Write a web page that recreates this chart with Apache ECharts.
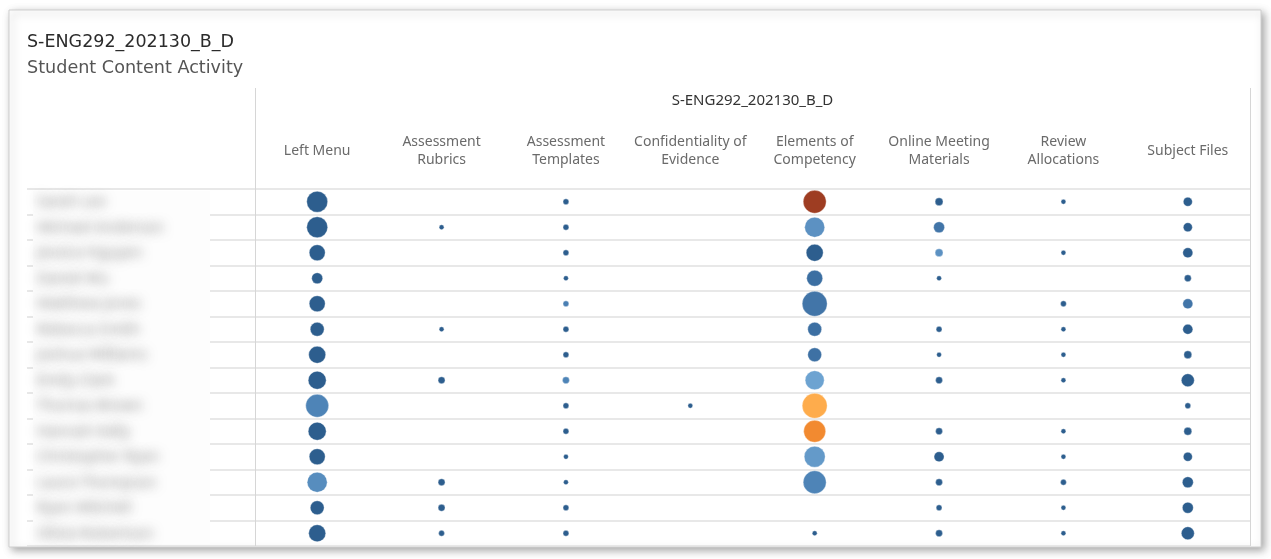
<!DOCTYPE html>
<html>
<head>
<meta charset="utf-8">
<script src="https://cdn.jsdelivr.net/npm/echarts@6/dist/echarts.min.js"></script>
<style>
  html, body { margin: 0; padding: 0; background: #fff; }
  #chart { width: 1271px; height: 559px; }
</style>
</head>
<body>
<div id="chart"></div>
<script>
// column (content area) names
const contentAreas = [
  'Left Menu', 'Assessment\nRubrics', 'Assessment\nTemplates', 'Confidentiality of\nEvidence',
  'Elements of\nCompetency', 'Online Meeting\nMaterials', 'Review\nAllocations', 'Subject Files'
]

// student names are blurred in the source, placeholders here
const students = [
  'Sarah Lee', 'Michael Anderson', 'Jessica Nguyen', 'Daniel Wu', 'Matthew Jones',
  'Rebecca Smith', 'Joshua Williams', 'Emily Clark', 'Thomas Brown', 'Hannah Kelly',
  'Christopher Ryan', 'Laura Thompson', 'Ryan Mitchell', 'Olivia Robertson'
]

// activity count per student (rows) and content area (columns), null = no activity
const activity = [
  [91, null, 7, null, 109, 13, 5, 17],
  [91, 5, 7, null, 83, 25, null, 17],
  [53, null, 7, null, 60, 13, 5, 21],
  [25, null, 5, null, 53, 5, null, 10],
  [53, null, 7, null, 129, null, 7, 21],
  [40, 5, 7, null, 40, 7, 5, 21],
  [60, null, 7, null, 40, 5, 5, 13],
  [67, 10, 10, null, 75, 10, 5, 35],
  [109, null, 7, 5, 129, null, null, 7],
  [67, null, 7, null, 100, 10, 5, 13],
  [53, null, 5, null, 91, 21, 5, 17],
  [83, 10, 5, null, 109, 10, 7, 25],
  [40, 10, 7, null, null, 7, 5, 25],
  [60, 7, 7, null, 5, 10, 5, 35]
]

// colour measure (0 = dark blue ... 100 = dark orange)
const colourScore = [
  [3, 3, 3, 3, 100, 3, 3, 3],
  [3, 3, 3, 3, 28, 15, 3, 3],
  [3, 3, 3, 3, 3, 28, 3, 3],
  [3, 3, 3, 3, 12, 3, 3, 3],
  [3, 3, 20, 3, 15, 3, 3, 15],
  [3, 3, 3, 3, 12, 3, 3, 3],
  [3, 3, 3, 3, 13, 3, 3, 3],
  [3, 3, 22, 3, 36, 3, 3, 3],
  [22, 3, 3, 3, 62, 3, 3, 3],
  [3, 3, 3, 3, 80, 3, 3, 3],
  [3, 3, 3, 3, 32, 3, 3, 3],
  [26, 3, 3, 3, 22, 3, 3, 3],
  [3, 3, 3, 3, 3, 3, 3, 3],
  [3, 3, 3, 3, 3, 3, 3, 3]
]

const courseName = 'S-ENG292_202130_B_D'

const points = []
activity.forEach((row, r) => {
  row.forEach((v, c) => {
    if (v !== null) points.push([c, r, v, colourScore[r][c]])
  })
})

const font = 'Noto Sans'
const gridLine = { show: true, lineStyle: { color: '#e0e0e0', width: 1.5 } }

const chart = echarts.init(document.getElementById('chart'))

const option = {
  backgroundColor: '#fff',
  animation: false,
  title: {
    text: courseName,
    subtext: 'Student Content Activity',
    left: 22,
    top: 28,
    itemGap: 8,
    textStyle: { fontFamily: 'DejaVu Sans', fontSize: 17.5, fontWeight: 'normal', color: '#2b2b2b' },
    subtextStyle: { fontFamily: 'DejaVu Sans', fontSize: 17.6, color: '#555' }
  },
  graphic: [
    {
      type: 'rect', z: -100, silent: true,
      shape: { x: 9, y: 10, width: 1252, height: 537 },
      style: { fill: '#fff', stroke: '#cfcfcf', lineWidth: 1, shadowBlur: 8, shadowOffsetX: 3, shadowOffsetY: 3, shadowColor: 'rgba(0,0,0,0.35)' }
    },
    { type: 'rect', z: 5, silent: true, shape: { x: 33, y: 191, width: 177, height: 353 }, style: { fill: '#fdfdfd' } },
    { type: 'line', z: 6, silent: true, shape: { x1: 255.5, y1: 88, x2: 255.5, y2: 546 }, style: { stroke: '#d6d6d6', lineWidth: 1 } },
    { type: 'line', z: 6, silent: true, shape: { x1: 1250.5, y1: 88, x2: 1250.5, y2: 546 }, style: { stroke: '#d6d6d6', lineWidth: 1 } }
  ],
  visualMap: {
    show: false,
    type: 'continuous',
    dimension: 3,
    min: 0,
    max: 100,
    seriesIndex: 0,
    inRange: { color: ['#285888', '#4a7fb3', '#76acd8', '#ffb04f', '#f28a30', '#9e3d22'] }
  },
  grid: [
    { left: 27, width: 228, top: 189, bottom: 13, outerBoundsMode: 'none' },
    { left: 255, right: 21, top: 189, bottom: 13, outerBoundsMode: 'none' }
  ],
  xAxis: [
    { gridIndex: 0, type: 'category', data: [''], show: false },
    {
      gridIndex: 1,
      type: 'category',
      position: 'top',
      data: contentAreas,
      name: courseName,
      nameLocation: 'middle',
      nameGap: 81,
      nameTextStyle: { fontFamily: font, fontSize: 15, color: '#333' },
      axisLine: { show: false },
      axisTick: { show: false },
      axisLabel: {
        fontFamily: font, fontSize: 14, color: '#6a6a6a', lineHeight: 18,
        verticalAlign: 'middle', margin: 38, interval: 0
      },
      splitLine: { show: false }
    }
  ],
  yAxis: [
    {
      gridIndex: 0, type: 'category', inverse: true, data: students,
      axisLine: { show: false }, axisTick: { show: false }, axisLabel: { show: false },
      splitLine: gridLine
    },
    {
      // names drawn far off to the left, only their blurred shadow lands in the row header
      gridIndex: 0, type: 'category', inverse: true, data: students, z: 10,
      position: 'left', offset: 0,
      axisLine: { show: false }, axisTick: { show: false }, splitLine: { show: false },
      axisLabel: {
        margin: 600, align: 'left', fontFamily: font, fontSize: 15,
        color: '#888', textShadowColor: 'rgba(110,110,110,0.85)', textShadowBlur: 11,
        textShadowOffsetX: 610, textShadowOffsetY: 0
      }
    },
    {
      gridIndex: 1, type: 'category', inverse: true, data: students,
      axisLine: { show: false }, axisTick: { show: false }, axisLabel: { show: false },
      splitLine: gridLine
    }
  ],
  series: [
    {
      type: 'scatter',
      xAxisIndex: 1,
      yAxisIndex: 2,
      data: points,
      symbolSize: val => 2.2 * Math.sqrt(val[2]),
      itemStyle: { opacity: 1, borderColor: 'rgba(255,255,255,0.35)', borderWidth: 1 }
    }
  ]
}

chart.setOption(option)
window.addEventListener('resize', () => chart.resize())
</script>
</body>
</html>
